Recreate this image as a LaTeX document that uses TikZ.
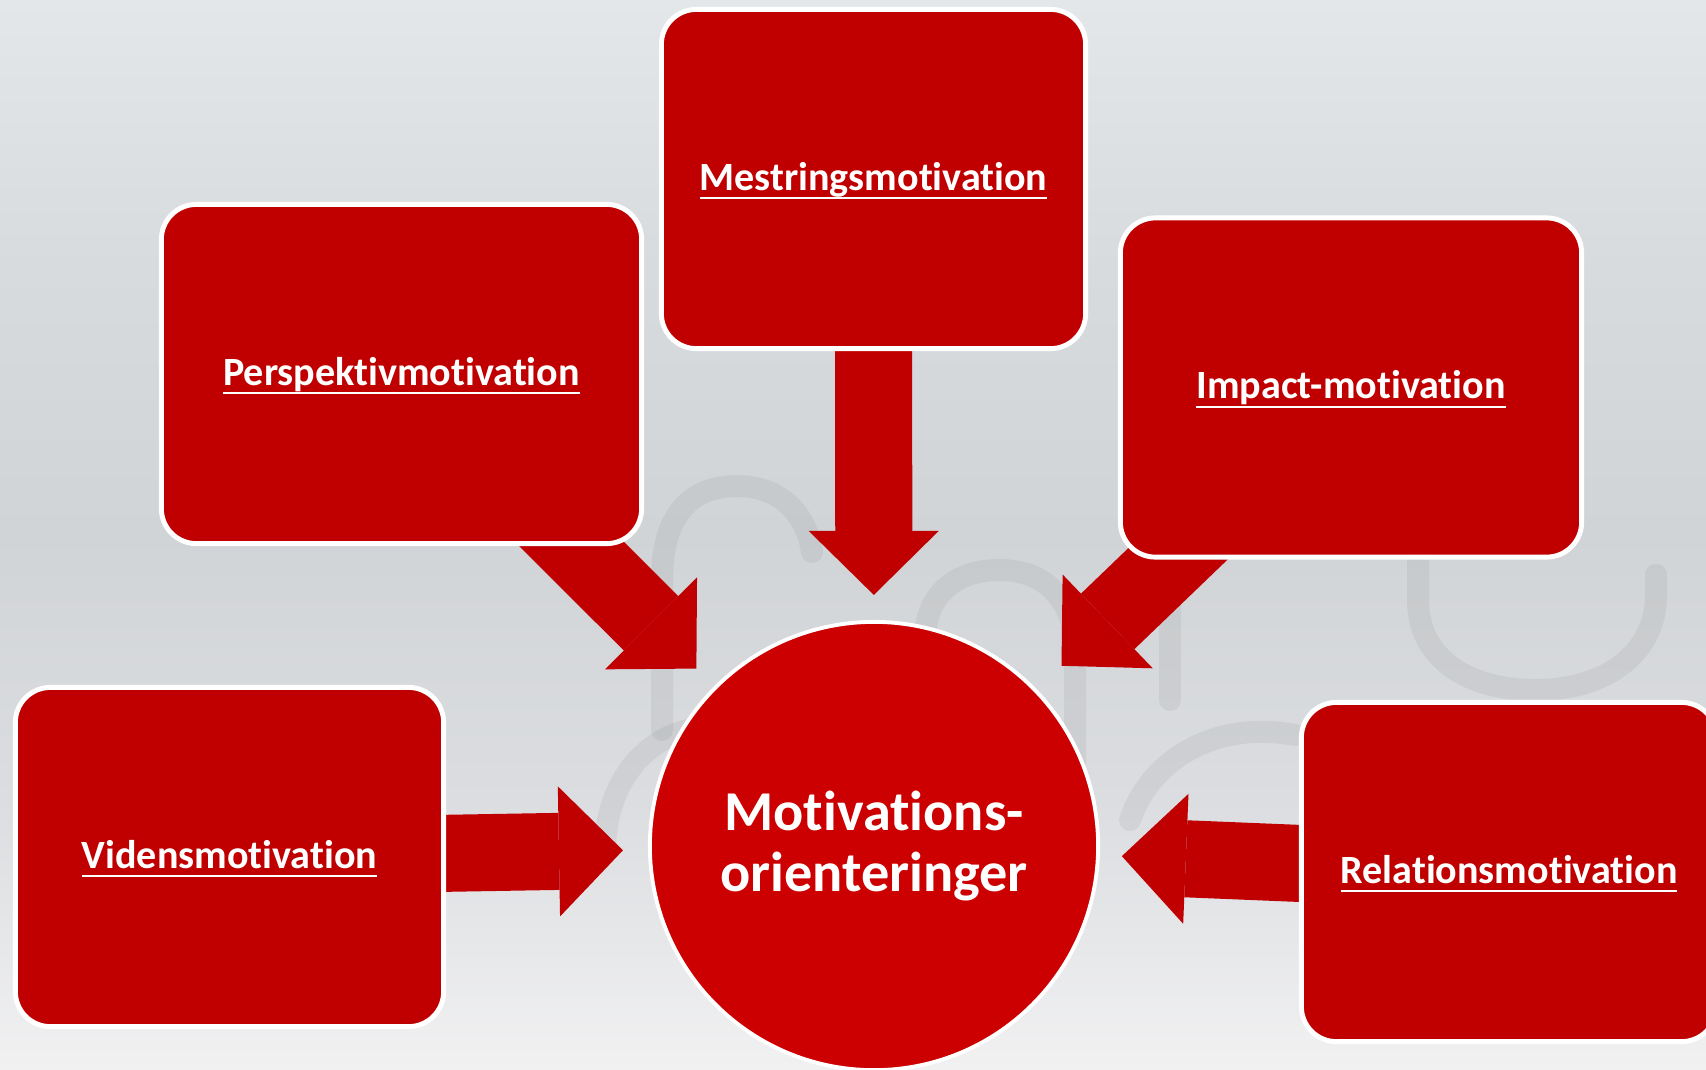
\documentclass[tikz,border=0pt]{standalone}
\usepackage{fontspec}
\newfontfamily\calfont{Carlito}[Ligatures=NoCommon]
\usepackage{xcolor}
\usetikzlibrary{arrows.meta}
\definecolor{boxred}{RGB}{192,0,0}
\definecolor{circred}{RGB}{204,0,0}
\definecolor{bgtop}{RGB}{228,231,234}
\definecolor{bgupper}{RGB}{216,219,222}
\definecolor{bgmid}{RGB}{209,212,215}
\definecolor{bglower}{RGB}{219,221,224}
\definecolor{bgbot}{RGB}{241,241,242}
\pgfdeclareverticalshading{backdropshade}{100bp}{color(0bp)=(bgbot); color(25bp)=(bgbot);
    color(37.5bp)=(bglower); color(50bp)=(bgmid); color(62.5bp)=(bgupper);
    color(75bp)=(bgtop); color(100bp)=(bgtop)}
\pgfdeclarelayer{backdrop}
\pgfdeclarelayer{arrowlayer}
\pgfsetlayers{backdrop,arrowlayer,main}
\newsavebox{\ulbox}
\newcommand{\ulabel}[1]{\sbox\ulbox{#1}\rlap{\rule[-2.6pt]{\wd\ulbox}{0.6pt}}\usebox\ulbox}

\begin{document}
\begin{tikzpicture}[x=0.01cm,y=-0.01cm,
    every node/.style={text=white},
    motive/.style={draw=white, line width=1.4pt, fill=boxred, rounded corners=0.35cm,
        minimum height=3.39cm, text height=0.30cm, text depth=0.08cm,
        font=\calfont\bfseries\fontsize{11.4}{13}\selectfont},
    core/.style={circle, draw=white, line width=1.1pt, fill=circred, minimum size=4.48cm,
        align=center, font=\calfont\bfseries\fontsize{16}{17.6}\selectfont},
    blockarrow/.style={boxred, line width=0.77cm,
        -{Triangle[width=1.3cm,length=0.64cm,line width=0pt]}, shorten >=0.25cm},
    wmline/.style={black, draw opacity=0.05, line width=0.22cm, line cap=round}]
    \useasboundingbox (0,0) rectangle (1706,1069);

    % -------------------------
    % Backdrop with faint logo
    % -------------------------
    \begin{pgfonlayer}{backdrop}
    \shade[shading=backdropshade] (0,0) rectangle (1706,1069);
    \draw[wmline] (662,730) -- (662,580) .. controls (662,510) and (695,486) .. (737,486)
        .. controls (785,486) and (808,520) .. (812,552);
    \draw[wmline] (700,728) .. controls (640,735) and (605,790) .. (605,850);
    \draw[wmline] (925,700) -- (925,640) .. controls (925,595) and (955,570) .. (1000,570)
        .. controls (1045,570) and (1075,600) .. (1075,650) -- (1075,850);
    \draw[wmline] (1170,575) -- (1170,700);
    \draw[wmline] (1295,735) .. controls (1215,720) and (1150,760) .. (1130,820);
    \draw[wmline] (1418,560) -- (1418,600) .. controls (1418,660) and (1470,690) .. (1535,690)
        .. controls (1610,690) and (1656,650) .. (1656,595) -- (1656,575);
    \end{pgfonlayer}

    % -------------------------
    % Centre and the five boxes
    % -------------------------
    \node[core] (circ) at (874,846) {Motivations-\\orienteringer};

    \node[motive, minimum width=4.24cm] (mest) at (873.5,179) {\ulabel{Mestringsmotivation}};
    \node[motive, minimum width=4.80cm] (persp) at (401.5,374) {\ulabel{Perspektivmotivation}};
    \node[motive, minimum width=4.61cm] (impact) at (1351,387.5) {\ulabel{Impact-motivation}};
    \node[motive, minimum width=4.28cm] (videns) at (229.5,857) {\ulabel{Vidensmotivation}};
    \node[motive, minimum width=4.15cm] (relation) at (1509,872) {\ulabel{Relationsmotivation}};

    % -------------------------
    % Block arrows into the centre
    % -------------------------
    \begin{pgfonlayer}{arrowlayer}
    \draw[blockarrow] (mest.center) -- (circ);
    \draw[blockarrow] (persp.center) -- (circ);
    \draw[blockarrow, shorten >=0.34cm] (impact.center) -- (circ);
    \draw[blockarrow] (videns.center) -- (circ);
    \draw[blockarrow, shorten >=0.22cm] (relation.center) -- (circ);
    \end{pgfonlayer}

\end{tikzpicture}
\end{document}
